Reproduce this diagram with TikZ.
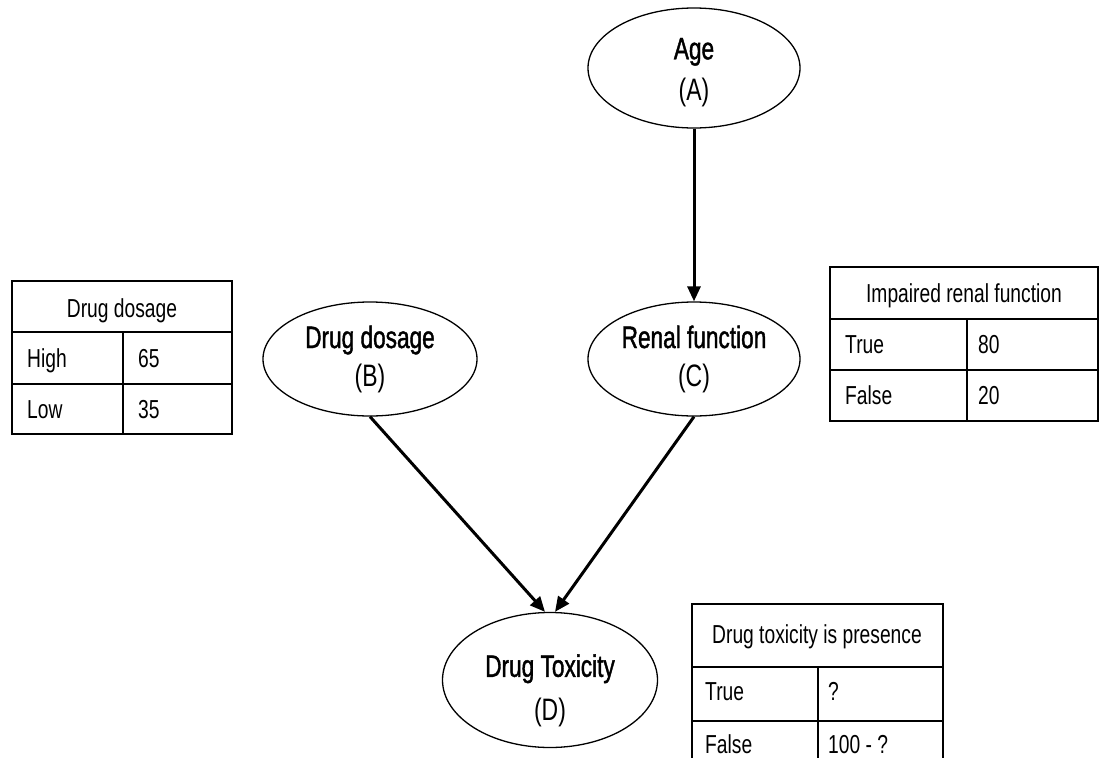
\documentclass[tikz,border=0pt]{standalone}
\usepackage{fontspec}
\setmainfont{Liberation Sans}[FakeStretch=0.74]
\newfontface\namefont{Liberation Sans}[FakeStretch=0.73, FakeBold=1.3]
\usetikzlibrary{shapes.geometric,arrows.meta}
% invisible strut that lowers a node's text block
\newcommand\lowerby[1]{\rule{0pt}{\dimexpr 24pt+2\dimexpr #1\relax\relax}}

\begin{document}
\begin{tikzpicture}[x=1pt,y=-1pt,
  var/.style={ellipse, draw, line width=1.3pt, inner sep=0pt, align=center,
    font=\fontsize{31}{38}\selectfont},
  link/.style={line width=3pt, -{Triangle[length=15pt,width=13pt]}},
  grid/.style={line width=2.2pt},
  cell/.style={font=\fontsize{26}{28}\selectfont, anchor=base west, inner sep=0pt},
  head/.style={font=\fontsize{26}{28}\selectfont, anchor=base, inner sep=0pt}]
\fill[white] (0,0) rectangle (1101,758);
\useasboundingbox (0,0) rectangle (1101,758);

% network variables
\node[var, minimum width=212pt, minimum height=120pt,
      font=\fontsize{31}{41}\selectfont] (A) at (694,68) {\lowerby{3pt}{\namefont Age}\\(A)};
\node[var, minimum width=214pt, minimum height=114pt] (B) at (370,359) {{\namefont Drug dosage}\\(B)};
\node[var, minimum width=212pt, minimum height=114pt] (C) at (694,359) {{\namefont Renal function}\\(C)};
\node[var, minimum width=215pt, minimum height=135pt,
      font=\fontsize{31}{44}\selectfont] (D) at (550,680) {\lowerby{10pt}{\namefont Drug Toxicity}\\(D)};

% dependencies
\draw[link] (A) -- (C);
\draw[link] (B.south) -- ([xshift=-5pt]D.north);
\draw[link] (C.south) -- ([xshift=5pt]D.north);

% table: drug dosage
\draw[grid] (12,281) rectangle (232,434);
\draw[grid] (12,332) -- (232,332) (12,384) -- (232,384) (123,332) -- (123,434);
\node[head] (t1h) at (122,317) {Drug dosage};
\node[cell] (t1a) at (27,367) {High};
\node[cell] (t1b) at (138,367) {65};
\node[cell] (t1c) at (27,418) {Low};
\node[cell] (t1d) at (138,418) {35};

% table: impaired renal function
\draw[grid] (830,267) rectangle (1098,421);
\draw[grid] (830,319) -- (1098,319) (830,370) -- (1098,370) (967,319) -- (967,421);
\node[head] (t2h) at (964,302) {Impaired renal function};
\node[cell] (t2a) at (845,353) {True};
\node[cell] (t2b) at (978,353) {80};
\node[cell] (t2c) at (845,404) {False};
\node[cell] (t2d) at (978,404) {20};

% table: drug toxicity
\draw[grid] (692,762) -- (692,604) -- (943,604) -- (943,762);
\draw[grid] (692,667) -- (943,667) (692,721) -- (943,721) (818,667) -- (818,762);
\node[head] (t3h) at (817,643) {Drug toxicity is presence};
\node[cell] (t3a) at (705,700) {True};
\node[cell] (t3b) at (828,700) {?};
\node[cell] (t3c) at (705,753) {False};
\node[cell] (t3d) at (828,753) {100 - ?};
\end{tikzpicture}
\end{document}
